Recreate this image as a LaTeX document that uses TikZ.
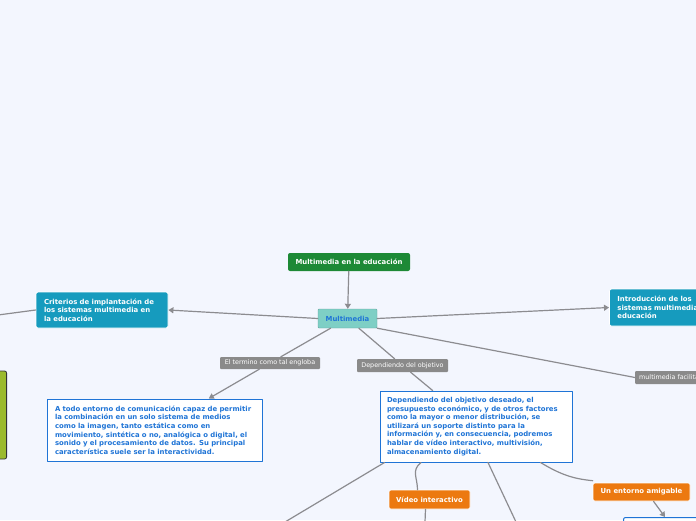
\documentclass[tikz,border=0pt]{standalone}
\usepackage{fontspec}
\setmainfont{DejaVu Sans}
\usetikzlibrary{arrows.meta}
\definecolor{fondo}{RGB}{243,246,254}
\definecolor{verde}{RGB}{29,137,54}
\definecolor{turquesa}{RGB}{126,207,197}
\definecolor{azulmar}{RGB}{22,155,190}
\definecolor{naranja}{RGB}{236,121,16}
\definecolor{oliva}{RGB}{155,186,44}
\definecolor{gris}{RGB}{140,140,144}
\definecolor{etiq}{RGB}{138,138,138}
\definecolor{azul}{RGB}{31,116,214}
\begin{document}
\begin{tikzpicture}[x=1pt, y=-1pt, line join=round, line cap=round, >={Triangle[length=5pt,width=6pt]},
	conn/.style={draw=gris, line width=1.2pt},
	caja/.style={rounded corners=2pt, inner ysep=0pt, inner xsep=8pt, font=\fontsize{6.9}{8.6}\selectfont\bfseries, align=left},
	etiqueta/.style={fill=etiq, rounded corners=1pt, text=white, inner sep=0pt, minimum height=12pt, font=\fontsize{6.4}{7}\selectfont},
	texto/.style={draw=azul, line width=1pt, fill=white, text=azul, inner ysep=0pt, inner xsep=8pt, font=\fontsize{6.9}{8.6}\selectfont\bfseries, align=left}]
	\fill[fondo] (0,0) rectangle (696,520);
	\clip (0,0) rectangle (696,520);
	% Nodos principales
	\node[caja, fill=verde, text=white, minimum width=122pt, minimum height=18pt, align=center, inner xsep=0pt] (edu) at (349,262) {Multimedia en la educación};
	\node[caja, fill=turquesa, draw=turquesa!80!black, text=azul, minimum width=59pt, minimum height=19pt, align=center, inner xsep=0pt, rounded corners=1pt] (multi) at (347.5,318.5) {Multimedia};
	\node[caja, fill=azulmar, text=white, text width=116pt, minimum height=36pt, draw=white, line width=0.8pt] (crit) at (102,310) {Criterios de implantación de\\los sistemas multimedia en\\la educación};
	\node[caja, fill=azulmar, text=white, text width=116pt, minimum height=37pt, anchor=west, draw=white, line width=0.8pt] (intro) at (609,307.5) {Introducción de los\\sistemas multimedia en la\\educación};
	\node[draw=black!80, fill=oliva, rounded corners=2pt, minimum width=60pt, minimum height=88pt, anchor=east, line width=0.8pt] (izq) at (7,415) {};
	% Etiquetas de las ramas
	\node[etiqueta, minimum width=100pt] (lbl1) at (270,363) {El termino como tal engloba};
	\node[etiqueta, minimum width=91pt, minimum height=13pt] (lbl2) at (402.5,365.5) {Dependiendo del objetivo};
	\node[etiqueta, minimum height=13pt, anchor=west, align=left, inner xsep=4pt] (lbl3) at (635,377.5) {multimedia facilita};
	% Cuadros de texto
	\node[texto, text width=199pt, minimum height=62pt] (defn) at (154.5,430) {A todo entorno de comunicación capaz de permitir\\la combinación en un solo sistema de medios\\como la imagen, tanto estática como en\\movimiento, sintética o no, analógica o digital, el\\sonido y el procesamiento de datos. Su principal\\característica suele ser la interactividad.};
	\node[texto, text width=178pt, minimum height=71pt, inner xsep=7pt] (dep) at (476,426.5) {Dependiendo del objetivo deseado, el\\presupuesto económico, y de otros factores\\como la mayor o menor distribución, se\\utilizará un soporte distinto para la\\información y, en consecuencia, podremos\\hablar de vídeo interactivo, multivisión,\\almacenamiento digital.};
	\node[caja, fill=naranja, text=white, minimum width=81pt, minimum height=19pt, align=center, inner xsep=0pt, draw=white, line width=0.6pt] (video) at (429.5,499.5) {Vídeo interactivo};
	\node[caja, fill=naranja, text=white, minimum width=97pt, minimum height=18pt, align=center, inner xsep=0pt, draw=white, line width=0.6pt] (amig) at (641.5,492) {Un entorno amigable};
	\node[draw=azul, line width=1pt, fill=white, rounded corners=2pt, minimum width=90pt, minimum height=30pt, anchor=north west] (abajo) at (623,517) {};
	% Puntos sueltos fuera de la imagen
	\coordinate (fueraA) at (-2,315);
	\coordinate (fueraB) at (285,522);
	\coordinate (fueraC) at (425,522);
	\coordinate (fueraD) at (516,522);
	% Conectores
	\draw[conn, ->] (edu) -- (multi);
	\draw[conn, ->] (multi.west) -- (crit.east);
	\draw[conn] (crit.west) -- (fueraA);
	\draw[conn, ->] (multi.east) -- (intro.west);
	\draw[conn] (multi) -- (lbl1);
	\draw[conn, ->] (lbl1) -- (defn);
	\draw[conn] (multi) -- (lbl2);
	\draw[conn] (lbl2) -- (dep);
	\draw[conn] (multi.south east) -- (lbl3.west);
	\draw[conn] ([xshift=5pt]dep.south west) -- (fueraB);
	\draw[conn] ([xshift=-55pt]dep.south) .. controls +(-10,8) and +(0,-12) .. ([xshift=-12pt]video.north);
	\draw[conn] ([xshift=-4pt]video.south) -- (fueraC);
	\draw[conn] ([xshift=12pt]dep.south) -- (fueraD);
	\draw[conn] ([xshift=-32pt]dep.south east) .. controls +(20,12) and +(-20,-2) .. ([yshift=2pt]amig.north west);
	\draw[conn, ->] ([xshift=12pt]amig.south) -- ([xshift=42pt]abajo.north west);
\end{tikzpicture}
\end{document}
